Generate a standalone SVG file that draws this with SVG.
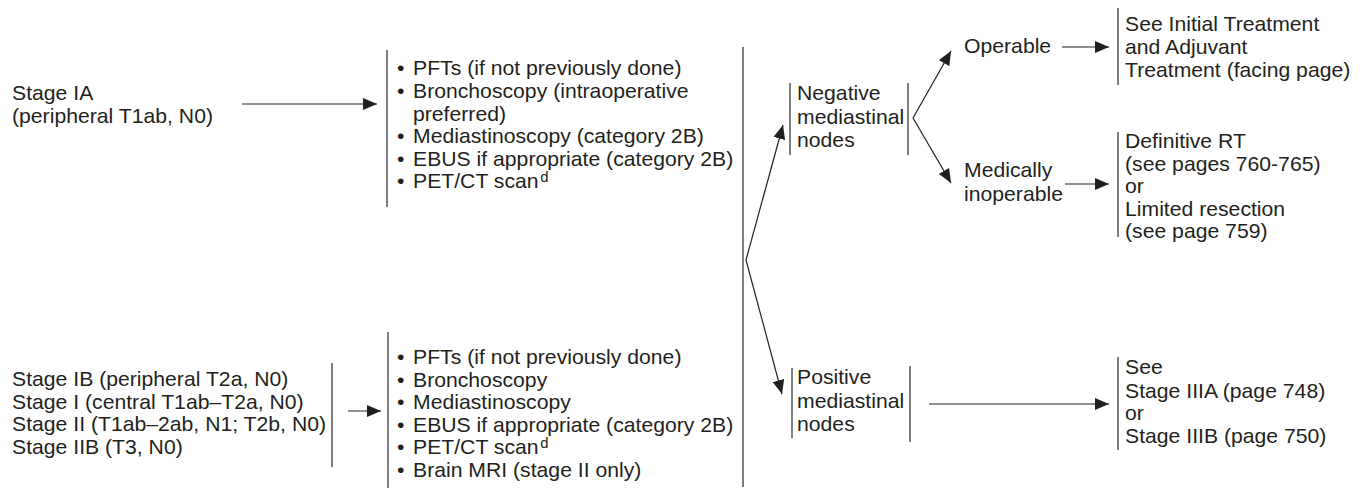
<svg xmlns="http://www.w3.org/2000/svg" width="1369" height="490" viewBox="0 0 1369 490">
<defs>
<style>
text{font-family:"Liberation Sans",Arial,sans-serif;font-size:20px;fill:#231f20}
.br{stroke:#555;stroke-width:1.5;fill:none}
.ar{stroke:#231f20;stroke-width:1.2;fill:none;marker-end:url(#ah)}
.sup{font-size:14px}
</style>
<marker id="ah" viewBox="0 0 14 12" refX="14" refY="6" markerWidth="14" markerHeight="12" markerUnits="userSpaceOnUse" orient="auto">
<path d="M0,0 L14,6 L0,12 Z" fill="#231f20"/>
</marker>
</defs>
<rect width="1369" height="490" fill="#fff"/>

<g id="connectors">
<line class="ar" x1="242" y1="104" x2="377" y2="104"/>
<line class="ar" x1="348" y1="411" x2="381" y2="411"/>
<line class="ar" x1="746" y1="260" x2="783" y2="125"/>
<line class="ar" x1="746" y1="260" x2="782" y2="394"/>
<line class="ar" x1="913" y1="118" x2="951" y2="51"/>
<line class="ar" x1="913" y1="118" x2="951" y2="183"/>
<line class="ar" x1="1062" y1="47" x2="1109" y2="47"/>
<line class="ar" x1="1065" y1="184" x2="1109" y2="184"/>
<line class="ar" x1="929" y1="404" x2="1109" y2="404"/>
</g>

<g id="stage-ia">
<g transform="translate(12 0) scale(1.06 1)"><text x="0" y="100">Stage IA</text><text x="0" y="123">(peripheral T1ab, N0)</text></g>
</g>

<g id="workup-1">
<line class="br" x1="387" y1="50" x2="387" y2="207"/>
<g transform="translate(397 0) scale(1.06 1)">
<text x="0" y="75.5">•</text><text x="0" y="98">•</text><text x="0" y="143.3">•</text><text x="0" y="166">•</text><text x="0" y="188.5">•</text>
</g>
<g transform="translate(413 0) scale(1.06 1)">
<text x="0" y="75.5">PFTs (if not previously done)</text>
<text x="0" y="98">Bronchoscopy (intraoperative</text>
<text x="0" y="120.7">preferred)</text>
<text x="0" y="143.3">Mediastinoscopy (category 2B)</text>
<text x="0" y="166">EBUS if appropriate (category 2B)</text>
<text x="0" y="188.5">PET/CT scan<tspan class="sup" dx="1.5" dy="-6">d</tspan></text>
</g>
</g>

<g id="stage-ib-ii">
<g transform="translate(12 0) scale(1.06 1)">
<text x="0" y="386">Stage IB (peripheral T2a, N0)</text>
<text x="0" y="409">Stage I (central T1ab–T2a, N0)</text>
<text x="0" y="431.5">Stage II (T1ab–2ab, N1; T2b, N0)</text>
<text x="0" y="454">Stage IIB (T3, N0)</text>
</g>
<line class="br" x1="332" y1="363" x2="332" y2="467"/>
</g>

<g id="workup-2">
<line class="br" x1="388" y1="332" x2="388" y2="488"/>
<g transform="translate(397 0) scale(1.06 1)">
<text x="0" y="364">•</text><text x="0" y="387">•</text><text x="0" y="409">•</text><text x="0" y="432">•</text><text x="0" y="454">•</text><text x="0" y="477">•</text>
</g>
<g transform="translate(413 0) scale(1.06 1)">
<text x="0" y="364">PFTs (if not previously done)</text>
<text x="0" y="387">Bronchoscopy</text>
<text x="0" y="409">Mediastinoscopy</text>
<text x="0" y="432">EBUS if appropriate (category 2B)</text>
<text x="0" y="454">PET/CT scan<tspan class="sup" dx="1.5" dy="-6">d</tspan></text>
<text x="0" y="477">Brain MRI (stage II only)</text>
</g>
</g>

<g id="workup-result">
<line class="br" x1="743" y1="47" x2="743" y2="487"/>
</g>

<g id="negative">
<line class="br" x1="790" y1="83" x2="790" y2="155"/>
<g transform="translate(797 0) scale(1.06 1)">
<text x="0" y="100">Negative</text><text x="0" y="124">mediastinal</text><text x="0" y="147">nodes</text>
</g>
<line class="br" x1="908" y1="83" x2="908" y2="155"/>
</g>

<g id="operable">
<g transform="translate(964 0) scale(1.06 1)"><text x="0" y="53">Operable</text></g>
</g>

<g id="inoperable">
<g transform="translate(964 0) scale(1.06 1)"><text x="0" y="177">Medically</text><text x="0" y="201">inoperable</text></g>
</g>

<g id="initial-treatment">
<line class="br" x1="1118" y1="8" x2="1118" y2="85"/>
<g transform="translate(1125 0) scale(1.06 1)">
<text x="0" y="31">See Initial Treatment</text><text x="0" y="54">and Adjuvant</text><text x="0" y="77">Treatment (facing page)</text>
</g>
</g>

<g id="definitive-rt">
<line class="br" x1="1118" y1="132" x2="1118" y2="237"/>
<g transform="translate(1125 0) scale(1.06 1)">
<text x="0" y="148">Definitive RT</text><text x="0" y="171">(see pages 760-765)</text><text x="0" y="193">or</text><text x="0" y="216">Limited resection</text><text x="0" y="238">(see page 759)</text>
</g>
</g>

<g id="positive">
<line class="br" x1="792" y1="368" x2="792" y2="438"/>
<g transform="translate(797 0) scale(1.06 1)">
<text x="0" y="384">Positive</text><text x="0" y="408">mediastinal</text><text x="0" y="431">nodes</text>
</g>
<line class="br" x1="910" y1="366" x2="910" y2="442"/>
</g>

<g id="stage-iii">
<line class="br" x1="1118" y1="357" x2="1118" y2="450"/>
<g transform="translate(1125 0) scale(1.06 1)">
<text x="0" y="374">See</text><text x="0" y="398">Stage IIIA (page 748)</text><text x="0" y="420">or</text><text x="0" y="443">Stage IIIB (page 750)</text>
</g>
</g>
</svg>
